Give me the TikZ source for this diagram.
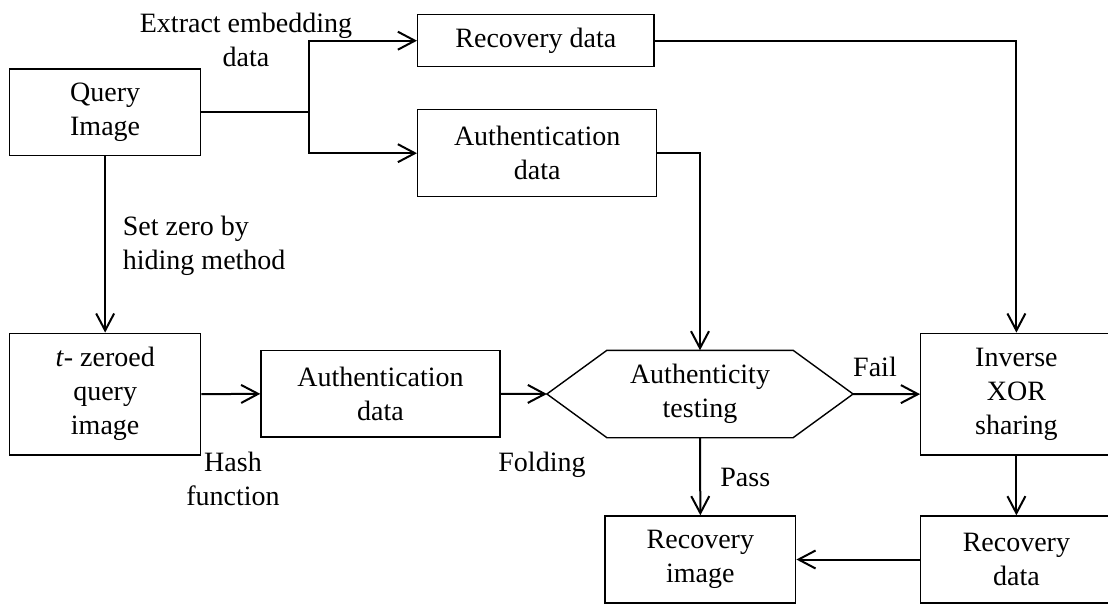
\documentclass[tikz,border=0pt]{standalone}
\usepackage{fontspec}
\setmainfont{Liberation Serif}
\usetikzlibrary{arrows.meta}
\begin{document}
\begin{tikzpicture}[x=0.5pt,y=-0.5pt,
  txt/.style={font=\fontsize{14pt}{17pt}\selectfont, align=center, inner sep=0pt},
  box/.style={txt, draw, line width=0.7pt},
  conn/.style={line width=1pt},
  arr/.style={conn, -{Straight Barb[length=8.5pt,width=9pt]}},
  lbl/.style={txt}
]
\useasboundingbox (0,0) rectangle (1108,604);

\node[box, minimum width=95.55pt, minimum height=43.35pt] (qi) at (105.15,112.35) {Query\\Image};
\node[box, minimum width=118.15pt, minimum height=26pt] (rd1) at (535.85,40.7) {Recovery data};
\node[box, minimum width=119.5pt, minimum height=43.5pt] (ad1) at (537.2,153.2) {Authentication\\data};
\node[box, minimum width=95.55pt, minimum height=60.85pt] (tz) at (105.15,394.15) {\textit{t}- zeroed\\query\\image};
\node[box, minimum width=119.5pt, minimum height=43.15pt] (ad2) at (380.5,393.85) {Authentication\\data};
\node[txt, minimum width=152.7pt, minimum height=43.3pt] (hex) at (700,394) {Authenticity\\testing};
\draw[line width=0.7pt] (hex.west) -- ([xshift=30pt]hex.north west) -- ([xshift=-30pt]hex.north east) -- (hex.east) -- ([xshift=-30pt]hex.south east) -- ([xshift=30pt]hex.south west) -- cycle;
\node[box, minimum width=95.65pt, minimum height=60.85pt] (ix) at (1016.4,394.15) {Inverse\\XOR\\sharing};
\node[box, minimum width=95.35pt, minimum height=43.5pt] (ri) at (700.35,559.5) {Recovery\\image};
\node[box, minimum width=95.65pt, minimum height=43.5pt] (rd2) at (1016.4,559.5) {Recovery\\data};

\coordinate (j) at (309,112.35);
\draw[conn] (qi.east) -- (j);
\draw[arr] (j) |- (rd1.west);
\draw[arr] (j) |- (ad1.west);
\draw[arr] (rd1.east) -| (ix.north);
\draw[arr] (ad1.east) -| (hex.north);
\draw[arr] (qi.south) -- (tz.north);
\draw[arr] (tz.east) -- (ad2.west);
\draw[arr] (ad2.east) -- (hex.west);
\draw[arr] (hex.east) -- (ix.west);
\draw[arr] (hex.south) -- (ri.north);
\draw[arr] (ix.south) -- (rd2.north);
\draw[arr] (rd2.west) -- (ri.east);

\node[lbl] (lext) at (246,40) {Extract embedding\\data};
\node[lbl, align=left, anchor=west] (lset) at (122.5,246) {Set zero by\\hiding method};
\node[lbl] (lhash) at (233,479) {Hash\\function};
\node[lbl, anchor=base west] (lfold) at (498,471.7) {Folding};
\node[lbl, anchor=base] (lfail) at (875,376.7) {Fail};
\node[lbl, anchor=base west] (lpass) at (720,486.7) {Pass};
\end{tikzpicture}
\end{document}
